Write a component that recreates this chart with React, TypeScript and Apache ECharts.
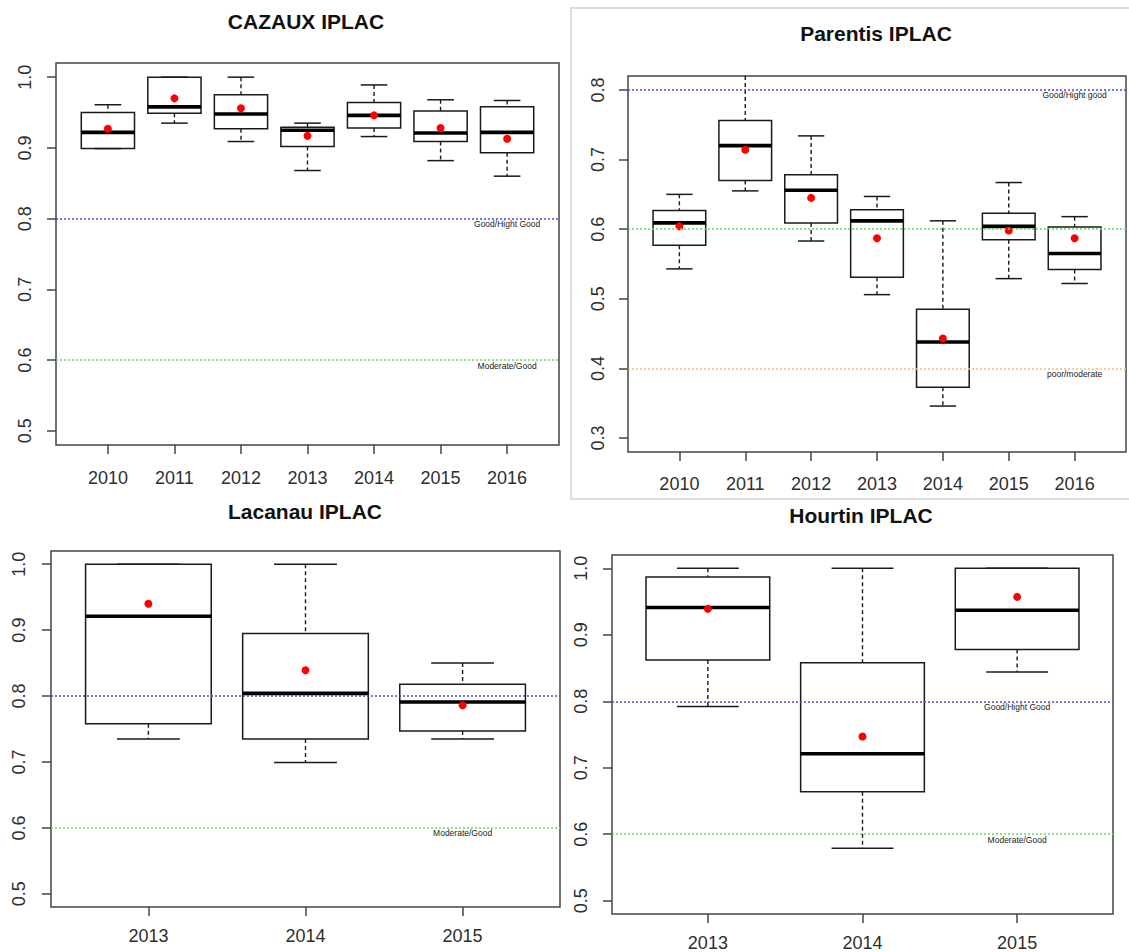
import React, { useEffect, useRef } from "react";
import * as echarts from "echarts";

// ---------- DATA ----------
const yearsA = ["2010", "2011", "2012", "2013", "2014", "2015", "2016"];
const yearsB = ["2013", "2014", "2015"];

// CAZAUX IPLAC
const cazauxLow = [0.899, 0.935, 0.909, 0.868, 0.916, 0.882, 0.86];
const cazauxQ1 = [0.899, 0.949, 0.927, 0.902, 0.928, 0.909, 0.893];
const cazauxMedian = [0.922, 0.958, 0.948, 0.925, 0.946, 0.921, 0.922];
const cazauxQ3 = [0.95, 1.0, 0.975, 0.929, 0.964, 0.952, 0.958];
const cazauxHigh = [0.961, 1.0, 1.0, 0.935, 0.989, 0.968, 0.967];
const cazauxMean = [0.927, 0.97, 0.956, 0.917, 0.946, 0.928, 0.913];

// Parentis IPLAC
const parentisLow = [0.543, 0.655, 0.583, 0.506, 0.346, 0.529, 0.522];
const parentisQ1 = [0.577, 0.67, 0.609, 0.531, 0.373, 0.585, 0.542];
const parentisMedian = [0.609, 0.72, 0.656, 0.612, 0.438, 0.604, 0.565];
const parentisQ3 = [0.627, 0.756, 0.678, 0.628, 0.485, 0.623, 0.603];
const parentisHigh = [0.65, 0.85, 0.734, 0.647, 0.612, 0.667, 0.618];
const parentisMean = [0.604, 0.714, 0.645, 0.587, 0.443, 0.598, 0.587];

// Lacanau IPLAC
const lacanauLow = [0.735, 0.699, 0.735];
const lacanauQ1 = [0.758, 0.735, 0.747];
const lacanauMedian = [0.921, 0.804, 0.791];
const lacanauQ3 = [1.0, 0.895, 0.818];
const lacanauHigh = [1.0, 1.0, 0.85];
const lacanauMean = [0.94, 0.839, 0.786];

// Hourtin IPLAC
const hourtinLow = [0.792, 0.579, 0.844];
const hourtinQ1 = [0.862, 0.664, 0.878];
const hourtinMedian = [0.941, 0.721, 0.937];
const hourtinQ3 = [0.987, 0.858, 1.0];
const hourtinHigh = [1.0, 1.0, 1.0];
const hourtinMean = [0.939, 0.747, 0.957];

// y tick labels
const yTicksHigh = [0.5, 0.6, 0.7, 0.8, 0.9, 1.0];
const yTicksParentis = [0.3, 0.4, 0.5, 0.6, 0.7, 0.8];

// thresholds [value, label, colour key]
const thrCazaux: [number, string, string][] = [
  [0.8, "Good/Hight Good", "blue"],
  [0.6, "Moderate/Good", "green"],
];
const thrParentis: [number, string, string][] = [
  [0.8, "Good/Hight good", "blue"],
  [0.6, "", "green"],
  [0.4, "poor/moderate", "orange"],
];
const thrLacanau: [number, string, string][] = [
  [0.8, "", "blue"],
  [0.6, "Moderate/Good", "green"],
];
const thrHourtin: [number, string, string][] = [
  [0.8, "Good/Hight Good", "blue"],
  [0.6, "Moderate/Good", "green"],
];

const titles = ["CAZAUX IPLAC", "Parentis IPLAC", "Lacanau IPLAC", "Hourtin IPLAC"];

const FONT = "'Liberation Sans', Arial, Helvetica, sans-serif";
const LINE_COLORS: Record<string, string> = {
  blue: "#4a4ae0",
  green: "#5fe05f",
  orange: "#f0c070",
};

interface PanelCfg {
  years: string[];
  low: number[];
  q1: number[];
  med: number[];
  q3: number[];
  high: number[];
  mean: number[];
  yMin: number;
  yMax: number;
  yTicks: number[];
  thr: [number, string, string][];
  grid: { left: number; top: number; width: number; height: number };
  yMargin: number;
  xMargin: number;
}

const panels: PanelCfg[] = [
  {
    years: yearsA, low: cazauxLow, q1: cazauxQ1, med: cazauxMedian, q3: cazauxQ3,
    high: cazauxHigh, mean: cazauxMean, yMin: 0.48, yMax: 1.02, yTicks: yTicksHigh,
    thr: thrCazaux, grid: { left: 56, top: 63, width: 503, height: 382 }, yMargin: 22, xMargin: 24,
  },
  {
    years: yearsA, low: parentisLow, q1: parentisQ1, med: parentisMedian, q3: parentisQ3,
    high: parentisHigh, mean: parentisMean, yMin: 0.28, yMax: 0.82, yTicks: yTicksParentis,
    thr: thrParentis, grid: { left: 628, top: 76, width: 498, height: 376 }, yMargin: 21, xMargin: 23,
  },
  {
    years: yearsB, low: lacanauLow, q1: lacanauQ1, med: lacanauMedian, q3: lacanauQ3,
    high: lacanauHigh, mean: lacanauMean, yMin: 0.48, yMax: 1.02, yTicks: yTicksHigh,
    thr: thrLacanau, grid: { left: 51, top: 551, width: 509, height: 356 }, yMargin: 23, xMargin: 20,
  },
  {
    years: yearsB, low: hourtinLow, q1: hourtinQ1, med: hourtinMedian, q3: hourtinQ3,
    high: hourtinHigh, mean: hourtinMean, yMin: 0.48, yMax: 1.02, yTicks: yTicksHigh,
    thr: thrHourtin, grid: { left: 612, top: 555, width: 501, height: 360 }, yMargin: 22, xMargin: 20,
  },
];

const titlePos = [
  [306, 21],
  [876, 33],
  [305, 511],
  [861, 515],
];

function renderBox(params: any, api: any) {
  const x = api.value(0);
  const low = api.coord([x, api.value(1)]);
  const q1 = api.coord([x, api.value(2)]);
  const med = api.coord([x, api.value(3)]);
  const q3 = api.coord([x, api.value(4)]);
  const high = api.coord([x, api.value(5)]);
  const halfBox = api.size([0.4, 0])[0];
  const halfCap = api.size([0.2, 0])[0];
  const cx = med[0];
  const stroke = "#1a1a1a";
  return {
    type: "group",
    children: [
      { type: "line", shape: { x1: cx, y1: high[1], x2: cx, y2: q3[1] }, style: { stroke, lineWidth: 1.4, lineDash: [4, 3] } },
      { type: "line", shape: { x1: cx, y1: q1[1], x2: cx, y2: low[1] }, style: { stroke, lineWidth: 1.4, lineDash: [4, 3] } },
      { type: "line", shape: { x1: cx - halfCap, y1: high[1], x2: cx + halfCap, y2: high[1] }, style: { stroke, lineWidth: 1.5 } },
      { type: "line", shape: { x1: cx - halfCap, y1: low[1], x2: cx + halfCap, y2: low[1] }, style: { stroke, lineWidth: 1.5 } },
      { type: "rect", shape: { x: cx - halfBox, y: q3[1], width: halfBox * 2, height: q1[1] - q3[1] }, style: { fill: "none", stroke, lineWidth: 1.5 } },
      { type: "line", shape: { x1: cx - halfBox, y1: med[1], x2: cx + halfBox, y2: med[1] }, style: { stroke: "#000", lineWidth: 3.6 } },
    ],
  };
}

function buildOption() {
  const grid: any[] = [];
  const xAxis: any[] = [];
  const yAxis: any[] = [];
  const series: any[] = [];

  panels.forEach((p, i) => {
    const n = p.years.length;
    const pad = 0.5 + 0.04 * n;
    const xs = p.years.map((_, k) => k + 1);
    grid.push({ ...p.grid, show: true, borderColor: "#444", borderWidth: 1.5, backgroundColor: "transparent" });
    xAxis.push({
      type: "value",
      gridIndex: i,
      min: 1 - pad,
      max: n + pad,
      splitLine: { show: false },
      axisLine: { show: false },
      axisTick: { show: true, length: 9, inside: false, customValues: xs, lineStyle: { color: "#444", width: 1.5 } },
      axisLabel: {
        customValues: xs,
        margin: p.xMargin,
        fontSize: 18,
        color: "#2e2e2e",
        fontFamily: FONT,
        formatter: (v: number) => p.years[Math.round(v) - 1] ?? "",
      },
    });
    yAxis.push({
      type: "value",
      gridIndex: i,
      min: p.yMin,
      max: p.yMax,
      splitLine: { show: false },
      axisLine: { show: false },
      axisTick: { show: true, length: 9, inside: false, customValues: p.yTicks, lineStyle: { color: "#444", width: 1.5 } },
      axisLabel: {
        customValues: p.yTicks,
        rotate: 90,
        margin: p.yMargin,
        fontSize: 18,
        color: "#2e2e2e",
        fontFamily: FONT,
        formatter: (v: number) => v.toFixed(1),
      },
    });
    series.push({
      type: "custom",
      xAxisIndex: i,
      yAxisIndex: i,
      clip: true,
      z: 2,
      renderItem: renderBox,
      encode: { x: 0, y: [1, 2, 3, 4, 5] },
      data: xs.map((x, k) => [x, p.low[k], p.q1[k], p.med[k], p.q3[k], p.high[k]]),
    });
    series.push({
      type: "scatter",
      xAxisIndex: i,
      yAxisIndex: i,
      z: 4,
      symbol: "circle",
      symbolSize: 8,
      itemStyle: { color: "#ff0000", opacity: 1 },
      data: xs.map((x, k) => [x, p.mean[k]]),
      markLine: {
        silent: true,
        symbol: "none",
        label: { show: false },
        data: p.thr.map((t) => ({
          yAxis: t[0],
          lineStyle: { color: LINE_COLORS[t[2]], type: [2, 2], width: 1.6 },
        })),
      },
      markPoint: {
        silent: true,
        symbol: "circle",
        symbolSize: 0,
        data: p.thr
          .filter((t) => t[1] !== "")
          .map((t) => ({ name: t[1], coord: [n, t[0]] })),
        label: {
          show: true,
          position: "bottom",
          distance: 1,
          fontSize: 8.5,
          color: "#222",
          fontFamily: FONT,
          formatter: (q: any) => q.name,
        },
      },
    });
  });

  const graphic: any[] = [
    {
      type: "rect",
      shape: { x: 571, y: 8, width: 570, height: 491 },
      style: { fill: "none", stroke: "#d2d2d2", lineWidth: 1.5 },
      z: 0,
    },
    ...titles.map((t, i) => ({
      type: "text",
      x: titlePos[i][0],
      y: titlePos[i][1],
      style: {
        text: t,
        fill: "#111",
        font: `bold 21px ${FONT}`,
        align: "center",
        verticalAlign: "middle",
      },
    })),
  ];

  return {
    animation: false,
    backgroundColor: "#ffffff",
    grid,
    xAxis,
    yAxis,
    series,
    graphic,
  };
}

export default function App() {
  const ref = useRef<HTMLDivElement>(null);
  useEffect(() => {
    if (!ref.current) return;
    const chart = echarts.init(ref.current, undefined, { renderer: "svg" });
    chart.setOption(buildOption() as any);
    return () => chart.dispose();
  }, []);
  return (
    <div
      ref={ref}
      style={{ position: "absolute", left: 0, top: 0, width: 1129, height: 952, background: "#fff" }}
    />
  );
}
